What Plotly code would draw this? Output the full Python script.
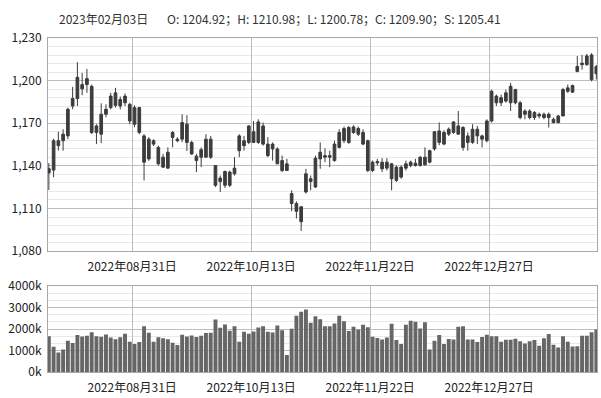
import plotly.graph_objects as go

# ---------------- data ----------------
header_date = "2023年02月03日"
header_ohlc = "O: 1204.92；H: 1210.98；L: 1200.78；C: 1209.90；S: 1205.41"

tick_index = [18, 43, 68, 93]
tick_labels = ["2022年08月31日", "2022年10月13日", "2022年11月22日", "2022年12月27日"]

opens = [1135, 1137, 1154.2, 1157.7, 1161.1, 1182.1, 1187.4, 1197.2, 1197.2, 1196,
         1163.5, 1162.3, 1176.3, 1181, 1191.4, 1182.1, 1184.4, 1183.3, 1181, 1181,
         1161.1, 1144.9, 1157.7, 1153, 1146.1, 1138.4, 1160, 1158.8, 1158.8, 1169.3,
         1156.5, 1146.8, 1146.1, 1146.1, 1158.8, 1140.2, 1131.4, 1126.3, 1126.3, 1134.4,
         1150.7, 1157.7, 1156.5, 1164, 1156.5, 1168.1, 1155.3, 1151.9, 1151.9, 1143.7,
         1141.4, 1120.5, 1113.5, 1111.2, 1121.6, 1129, 1125.1, 1144.9, 1146.1, 1146.1,
         1143.7, 1153, 1157.7, 1156.5, 1163.5, 1162.3, 1163.5, 1157.7, 1142.6, 1142.1,
         1142.6, 1138.4, 1141.4, 1129.8, 1132.1, 1138.4, 1140.2, 1140.2, 1140.2, 1140.7,
         1142.6, 1151.9, 1156.5, 1155.3, 1162.3, 1163.5, 1168.1, 1167, 1161.1, 1156.5,
         1165.8, 1161.1, 1157.7, 1171.6, 1189.1, 1184.4, 1185.6, 1184.4, 1193.7, 1184.4,
         1178.6, 1174, 1177.5, 1176.3, 1176.3, 1174, 1172.8, 1170.5, 1175.1, 1192.5,
         1191.9, 1206.5, 1211.2, 1211.2, 1218.1, 1204.92]
highs = [1142, 1159, 1164, 1165.8, 1181, 1195.6, 1213, 1205.4, 1208.2, 1197.2,
         1169.3, 1184, 1183.3, 1191.4, 1194.9, 1188.8, 1191, 1184.4, 1182.6, 1181.5,
         1162.3, 1160.2, 1158.8, 1154.2, 1148.4, 1153, 1164.6, 1160.2, 1176.3, 1175.6,
         1157.7, 1148.4, 1153, 1162.3, 1161.1, 1140.5, 1133.2, 1136.7, 1136.7, 1146.1,
         1162.3, 1161.1, 1168.6, 1171.6, 1172.8, 1170.5, 1160.2, 1156.5, 1153, 1147.2,
         1144.9, 1122.8, 1115, 1111.5, 1137.9, 1133.2, 1147.2, 1156.5, 1152.3, 1150.7,
         1157.7, 1165.8, 1167.7, 1168.1, 1168.6, 1167.7, 1165.8, 1158.5, 1143.7, 1144.9,
         1145.4, 1145.4, 1142.1, 1140.2, 1140.2, 1143.7, 1143.7, 1144.9, 1146.8, 1153,
         1151.4, 1164.6, 1170.5, 1165, 1167, 1171.5, 1178.6, 1168, 1163.5, 1169.3,
         1168.1, 1162, 1172.8, 1193.7, 1190.2, 1190.2, 1193.7, 1198.4, 1194.2, 1185.6,
         1179.8, 1179.8, 1178.6, 1177.5, 1177.5, 1177.5, 1174, 1175.8, 1194.9, 1197.2,
         1197.2, 1217.4, 1218.1, 1218.8, 1219.3, 1210.98]
lows = [1123, 1132, 1150.7, 1150.7, 1158.8, 1179.8, 1182.1, 1189.8, 1191.4, 1162.3,
        1155.3, 1156, 1174.2, 1179.8, 1181, 1179.8, 1182.1, 1169.3, 1167.2, 1162.3,
        1129.7, 1143.5, 1154, 1140.2, 1138.6, 1138, 1153, 1156.7, 1156.7, 1150.5,
        1147.7, 1135.6, 1139.1, 1146, 1144.9, 1125.1, 1121.6, 1124.4, 1125.1, 1133.2,
        1146.1, 1150.7, 1155.3, 1156, 1155.5, 1154.2, 1146.1, 1143.7, 1141.4, 1135.6,
        1136.7, 1108.1, 1103, 1094.2, 1120.5, 1122.8, 1124.4, 1137.9, 1142.6, 1139.1,
        1143, 1152.3, 1156, 1155.5, 1162.5, 1161, 1154.5, 1135.6, 1135.6, 1140.2,
        1135.6, 1136.7, 1122.8, 1128.6, 1130.9, 1136.7, 1139, 1139.5, 1139.5, 1140.2,
        1141.7, 1150.7, 1154.5, 1154.5, 1161, 1162.5, 1162, 1150.7, 1150.7, 1155.5,
        1155.3, 1153, 1156.5, 1170.5, 1182.1, 1182.1, 1184.4, 1178.6, 1183.3, 1172.8,
        1172.8, 1172.8, 1172.3, 1173.4, 1172.8, 1167, 1169.9, 1169.9, 1175.1, 1191.4,
        1191.4, 1205.8, 1207.7, 1210.5, 1199.5, 1200.78]
closes = [1138, 1157.7, 1157.7, 1162.3, 1179.8, 1187.4, 1202.3, 1194.2, 1201.4, 1163.5,
          1168.1, 1176.3, 1179.8, 1189.1, 1182.6, 1186.7, 1189.1, 1171.6, 1169.3, 1163.5,
          1142.6, 1158.8, 1155.3, 1141.4, 1139.1, 1149.6, 1163.5, 1157.7, 1170.5, 1156.5,
          1148.4, 1143.7, 1151.4, 1158.8, 1146.1, 1126.3, 1129, 1136, 1135.6, 1138.4,
          1161.1, 1154.2, 1168.1, 1156.5, 1170.9, 1155.3, 1147.2, 1155.3, 1141.4, 1136.7,
          1136.7, 1113.5, 1108, 1100.7, 1134.4, 1130.9, 1145.4, 1149.6, 1147.2, 1147.2,
          1155.3, 1163.5, 1166.3, 1167, 1167.4, 1166.3, 1155.3, 1136.7, 1136.7, 1143,
          1137.9, 1142.6, 1130.9, 1139.1, 1139.1, 1141.4, 1142.6, 1141.9, 1146.1, 1146.1,
          1150.7, 1164, 1164.6, 1163.5, 1165.8, 1170.9, 1162.3, 1153, 1156.5, 1165.8,
          1161.1, 1158.8, 1171.6, 1192.5, 1184.4, 1188, 1191.4, 1196, 1184.4, 1174,
          1176.3, 1178.6, 1174, 1175.1, 1174, 1176.3, 1170.5, 1175.1, 1193.7, 1194.9,
          1196.5, 1210, 1212.3, 1217.4, 1200.7, 1209.90]
volume_k = [1670, 1177, 912, 1051, 1456, 1349, 1721, 1656, 1690, 1860,
            1670, 1640, 1749, 1610, 1530, 1620, 1781, 1409, 1302, 1395,
            2140, 1830, 1409, 1620, 1570, 1530, 1370, 1260, 1735, 1656,
            1705, 1628, 1690, 1814, 1830, 2447, 2060, 2214, 1922, 2140,
            1409, 1876, 1781, 1891, 2075, 2140, 1876, 1845, 2170, 1953,
            791, 2015, 2619,
            2805, 2912, 2293, 2605, 2465, 2140, 2140, 2260, 2619, 2372,
            1907, 2107, 1981, 2200, 2093, 1642, 1581, 1516, 1609, 2247,
            1488, 1302, 2200, 2386, 2340, 2028, 2326, 1051, 1456, 1721,
            1302, 1535, 1516, 2107, 2140, 1516, 1516, 1395, 1628, 1735,
            1670, 1670, 1409, 1500, 1500, 1550, 1440, 1330, 1440, 1488,
            1223, 1580, 1767, 1270, 1144, 1670, 1409, 1191, 1207, 1690,
            1690, 1860, 1981]

price_ticks = [1080, 1110, 1140, 1170, 1200, 1230]
volume_ticks = [0, 1000, 2000, 3000, 4000]

# ---------------- figure ----------------
xs = list(range(len(closes)))
CANDLE = "#3c3c3c"
VOL = "#666666"
MAJOR = "#bdbdbd"
MINOR = "#e9e9e9"
BORDER = "#a8a8a8"
FONT = "Noto Sans CJK SC"

fig = go.Figure()
fig.add_trace(go.Candlestick(
    x=xs, open=opens, high=highs, low=lows, close=closes,
    increasing=dict(line=dict(color=CANDLE, width=1), fillcolor=CANDLE),
    decreasing=dict(line=dict(color=CANDLE, width=1), fillcolor=CANDLE),
    whiskerwidth=0, xaxis="x", yaxis="y", showlegend=False, hoverinfo="skip"))
fig.add_trace(go.Bar(
    x=xs, y=volume_k, marker=dict(color=VOL, line=dict(width=0)),
    xaxis="x2", yaxis="y2", showlegend=False, hoverinfo="skip"))

xrange = [-0.176, 115.14]
boundaries = [i - 0.5 for i in tick_index]
xcommon = dict(range=xrange, tickmode="array", tickvals=boundaries, ticktext=tick_labels,
               showgrid=True, gridcolor=MAJOR, gridwidth=1, zeroline=False,
               showline=True, linecolor=BORDER, mirror=True, ticks="",
               tickfont=dict(family=FONT, size=12, color="#222"),
               ticklabelstandoff=5, rangeslider=dict(visible=False), fixedrange=True)

fig.update_layout(
    width=601, height=398,
    margin=dict(l=48, r=3, t=38, b=23),
    paper_bgcolor="white", plot_bgcolor="white",
    font=dict(family=FONT, size=12, color="#222"),
    boxgap=0.2, bargap=0.18,
    xaxis=dict(domain=[0, 1], anchor="y", **xcommon),
    xaxis2=dict(domain=[0, 1], anchor="y2", matches="x", **xcommon),
    yaxis=dict(domain=[0.362, 1], anchor="x", range=[1080, 1230],
               tickmode="array", tickvals=price_ticks,
               ticktext=[f"{v:,}" for v in price_ticks],
               showgrid=True, gridcolor=MAJOR, zeroline=False,
               showline=True, linecolor=BORDER, mirror=True, ticks="",
               ticklabelstandoff=3,
               minor=dict(dtick=6, tick0=1080, showgrid=True, gridcolor=MINOR, ticks="")),
    yaxis2=dict(domain=[0, 0.2567], anchor="x2", range=[0, 4000],
                tickmode="array", tickvals=volume_ticks,
                ticktext=[f"{v}k" for v in volume_ticks],
                showgrid=True, gridcolor=MAJOR, zeroline=False,
                showline=True, linecolor=BORDER, mirror=True, ticks="",
                ticklabelstandoff=3,
                minor=dict(dtick=1000 / 3, tick0=0, showgrid=True, gridcolor=MINOR, ticks="")),
    annotations=[
        dict(text=header_date, xref="paper", yref="paper", x=(57 - 48) / 550, y=1 + (38 - 18) / 337,
             xanchor="left", yanchor="middle", showarrow=False,
             font=dict(family=FONT, size=12, color="#333")),
        dict(text=header_ohlc, xref="paper", yref="paper", x=(165 - 48) / 550, y=1 + (38 - 18) / 337,
             xanchor="left", yanchor="middle", showarrow=False,
             font=dict(family=FONT, size=12, color="#333")),
    ],
)

fig.write_html("out.html")
